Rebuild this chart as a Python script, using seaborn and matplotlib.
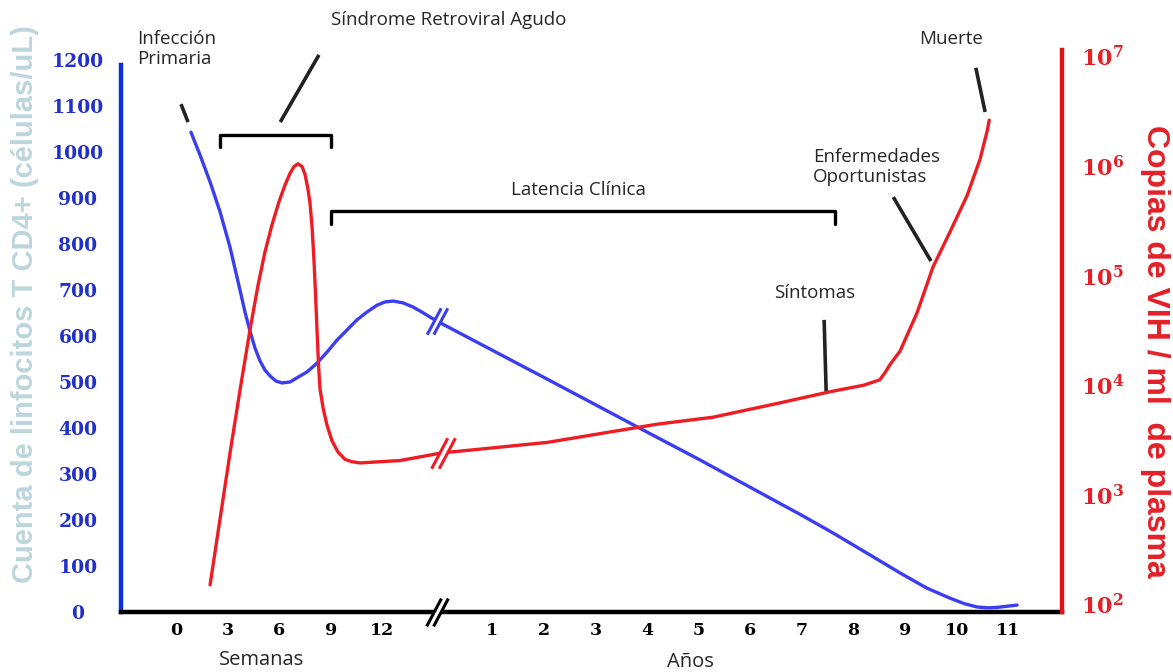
import numpy as np
import pandas as pd
import matplotlib
matplotlib.use("Agg")
import matplotlib.pyplot as plt
from matplotlib.path import Path
import seaborn as sns

# ---------------------------------------------------------------------------
# Data
# ---------------------------------------------------------------------------
# CD4+ T-cell count (cells/uL) during the acute phase (weeks after infection)
cd4_weeks = [0.87, 1.40, 1.98, 2.56, 3.14, 3.72, 4.01, 4.30, 4.59, 4.88,
             5.17, 5.47, 5.81, 6.16, 6.63, 7.03, 7.62, 8.20, 8.78, 9.36,
             9.94, 10.52, 11.10, 11.69, 12.15, 12.62, 13.20, 13.78, 14.30, 14.77]
cd4_acute = [1043, 993, 935, 870, 793, 700, 652, 611, 574, 546,
             526, 513, 502, 498, 500, 509, 522, 541, 565, 591,
             613, 635, 652, 667, 674, 676, 672, 663, 652, 641]
# CD4+ T-cell count during the chronic phase (years after infection)
cd4_years = [0.0, 2.0, 4.0, 5.0, 6.0, 7.0, 7.6, 8.26, 8.9, 9.42,
             9.87, 10.15, 10.39, 10.6, 10.78, 11.17]
cd4_chronic = [628, 510, 391, 332, 271, 210, 172, 128, 85, 52,
               30, 18, 11, 9, 10, 15]

# HIV RNA copies / ml of plasma, acute phase (weeks)
vl_weeks = [1.98, 2.56, 3.14, 3.72, 4.30, 4.77, 5.17, 5.58, 5.99, 6.34,
            6.63, 6.86, 7.09, 7.33, 7.50, 7.67, 7.79, 7.91, 8.02, 8.11,
            8.20, 8.29, 8.37, 8.55, 8.78, 9.07, 9.42, 9.83, 10.23, 10.70,
            11.86, 13.02, 14.77]
vl_acute = [1.5e2, 6.0e2, 2.4e3, 9.0e3, 3.19e4, 8.2e4, 1.64e5, 2.91e5, 4.75e5, 6.73e5,
            8.6e5, 9.9e5, 1.05e6, 9.9e5, 8.4e5, 6.2e5, 4.6e5, 2.8e5, 1.4e5, 6.9e4,
            3.1e4, 1.5e4, 9.3e3, 6.2e3, 4.3e3, 3.1e3, 2.45e3, 2.1e3, 2.0e3, 1.95e3,
            2.0e3, 2.05e3, 2.3e3]
# HIV RNA copies / ml of plasma, chronic phase (years)
vl_years = [0.0, 2.06, 4.19, 5.28, 6.58, 7.54, 8.2, 8.51, 8.61, 8.71,
            8.90, 9.23, 9.54, 9.87, 10.20, 10.45, 10.59, 10.63]
vl_chronic = [2.4e3, 3.0e3, 4.4e3, 5.1e3, 6.9e3, 8.7e3, 1.0e4, 1.12e4, 1.3e4, 1.55e4,
              2.04e4, 4.57e4, 1.2e5, 2.51e5, 5.37e5, 1.15e6, 2.09e6, 2.63e6]

# Axis ticks
week_ticks = [0, 3, 6, 9, 12]
year_ticks = [1, 2, 3, 4, 5, 6, 7, 8, 9, 10, 11]
cd4_ticks = [0, 100, 200, 300, 400, 500, 600, 700, 800, 900, 1000, 1100, 1200]
vl_ticks = [1e2, 1e3, 1e4, 1e5, 1e6, 1e7]
vl_tick_labels = [r"$\mathbf{10^{2}}$", r"$\mathbf{10^{3}}$", r"$\mathbf{10^{4}}$",
                  r"$\mathbf{10^{5}}$", r"$\mathbf{10^{6}}$", r"$\mathbf{10^{7}}$"]

# ---------------------------------------------------------------------------
# Broken time axis: weeks on the left part, years on the right part
# ---------------------------------------------------------------------------
WEEKS_PER_UNIT = 3.0
YEAR_ZERO = 5.13
AXIS_BREAK = 5.06


def week_pos(w):
    return np.asarray(w, dtype=float) / WEEKS_PER_UNIT


def year_pos(y):
    return YEAR_ZERO + np.asarray(y, dtype=float)


cd4_df = pd.DataFrame({
    "pos": np.concatenate([week_pos(cd4_weeks), year_pos(cd4_years)]),
    "value": cd4_acute + cd4_chronic,
})
vl_df = pd.DataFrame({
    "pos": np.concatenate([week_pos(vl_weeks), year_pos(vl_years)]),
    "value": vl_acute + vl_chronic,
})

# ---------------------------------------------------------------------------
# Styling
# ---------------------------------------------------------------------------
sns.set_style("white")
plt.rcParams["font.family"] = ["Open Sans", "DejaVu Sans"]
plt.rcParams["mathtext.fontset"] = "dejavuserif"

BLUE_LINE = "#3b3ef0"
BLUE_AXIS = "#0d2fd8"
BLUE_TEXT = "#2130c8"
RED_LINE = "#f01c24"
RED_AXIS = "#e01414"
RED_TEXT = "#e32027"
LABEL_GREY = "#bcd6dc"
INK = "#262626"

W, H = 1173, 672
fig = plt.figure(figsize=(W / 100, H / 100), dpi=100)
fig.patch.set_facecolor("white")
ax = fig.add_axes([121 / W, 60 / H, 941 / W, 562 / H])
ax2 = ax.twinx()
ax2.set_yscale("log")

sns.lineplot(data=cd4_df, x="pos", y="value", ax=ax, color=BLUE_LINE,
             linewidth=2.4, estimator=None, sort=False, zorder=3)
sns.lineplot(data=vl_df, x="pos", y="value", ax=ax2, color=RED_LINE,
             linewidth=2.4, estimator=None, sort=False, zorder=3)
for ln in ax.get_lines() + ax2.get_lines():
    ln.set_solid_joinstyle("round")

ax.set_xlim(-1.066, 17.17)
ax.set_ylim(0, 1221.7)
ax2.set_ylim(10 ** 1.929, 10 ** 7.06)
ax.set_xlabel("")
ax.set_ylabel("")
ax2.set_ylabel("")

# spines
for s in ("top", "right"):
    ax.spines[s].set_visible(False)
ax.spines["left"].set_color(BLUE_AXIS)
ax.spines["left"].set_linewidth(3.2)
ax.spines["left"].set_bounds(0, 1190)
ax.spines["bottom"].set_color("black")
ax.spines["bottom"].set_linewidth(3.2)
for s in ("top", "left", "bottom"):
    ax2.spines[s].set_visible(False)
ax2.spines["right"].set_color(RED_AXIS)
ax2.spines["right"].set_linewidth(3.2)

# ticks
ax.set_yticks(cd4_ticks)
ax.set_yticklabels([str(t) for t in cd4_ticks])
ax.tick_params(axis="y", length=0, pad=31)
for lab in ax.get_yticklabels():
    lab.set_ha("center")
    lab.set_color(BLUE_TEXT)
    lab.set_fontfamily("DejaVu Serif")
    lab.set_fontweight("bold")
    lab.set_fontsize(13.5)

xt = list(week_pos(week_ticks)) + list(year_pos(year_ticks))
xl = [str(t) for t in week_ticks] + [str(t) for t in year_ticks]
ax.set_xticks(xt)
ax.set_xticklabels(xl)
ax.tick_params(axis="x", length=0, pad=7)
for lab in ax.get_xticklabels():
    lab.set_color("black")
    lab.set_fontfamily("DejaVu Serif")
    lab.set_fontweight("bold")
    lab.set_fontsize(12.5)

ax2.yaxis.set_minor_locator(matplotlib.ticker.NullLocator())
ax2.set_yticks(vl_ticks)
ax2.set_yticklabels(vl_tick_labels)
ax2.tick_params(axis="y", length=0, pad=14, labelsize=16, labelcolor=RED_TEXT)

# axis titles
ax.text(-88 / 941, 308 / 562, "Cuenta de linfocitos T CD4+ (células/uL)",
        transform=ax.transAxes, rotation=90, rotation_mode="anchor",
        ha="center", va="baseline", color=LABEL_GREY, fontsize=21,
        fontweight="bold", family="Liberation Sans")
ax2.text(1 + 85 / 941, 261 / 562, "Copias de VIH / ml  de plasma",
         transform=ax2.transAxes, rotation=-90, rotation_mode="anchor",
         ha="center", va="baseline", color=RED_TEXT, fontsize=23,
         fontweight="bold", family="Liberation Sans")
ax.text(week_pos(5.0), -48 / 562, "Semanas", transform=ax.get_xaxis_transform(),
        ha="center", va="center", fontsize=14.5, color=INK)
ax.text(year_pos(4.83), -50 / 562, "Años", transform=ax.get_xaxis_transform(),
        ha="center", va="center", fontsize=14.5, color=INK)

# ---------------------------------------------------------------------------
# "//" break marks
# ---------------------------------------------------------------------------
slash_marker = Path([(-0.78, -1), (0.28, 1), (-0.28, -1), (0.78, 1)],
                    [Path.MOVETO, Path.LINETO, Path.MOVETO, Path.LINETO])
gap_marker = Path([(-0.78, -1), (-0.28, -1), (0.78, 1), (0.28, 1), (-0.78, -1)],
                  [Path.MOVETO, Path.LINETO, Path.LINETO, Path.LINETO, Path.CLOSEPOLY])


def break_mark(axis, x, y, color, size=20, transform=None):
    tr = transform if transform is not None else axis.transData
    axis.plot([x], [y], marker=gap_marker, markersize=size, color="white",
              markeredgecolor="white", markeredgewidth=1.0, linestyle="none",
              transform=tr, clip_on=False, zorder=6)
    axis.plot([x], [y], marker=slash_marker, markersize=size,
              markerfacecolor="none", markeredgecolor=color, markeredgewidth=2.2,
              linestyle="none", transform=tr, clip_on=False, zorder=7)


break_mark(ax, AXIS_BREAK, 0, "black", transform=ax.get_xaxis_transform())
bx = AXIS_BREAK
break_mark(ax, bx, np.interp(bx, cd4_df["pos"], cd4_df["value"]), BLUE_LINE, size=19)
rx = AXIS_BREAK + 0.11
break_mark(ax2, rx, 10 ** np.interp(rx, vl_df["pos"], np.log10(vl_df["value"])),
           RED_LINE, size=22)

# ---------------------------------------------------------------------------
# Phase annotations (left-axis data coordinates)
# ---------------------------------------------------------------------------
ann_kw = dict(color=INK, fontsize=13.5, clip_on=False)
line_kw = dict(color="#222222", linewidth=2.6, clip_on=False, solid_capstyle="butt")

ax.text(-0.745, 1224, "Infección\nPrimaria", ha="left", va="center",
        linespacing=1.15, **ann_kw)
ax.plot([0.097, 0.233], [1104, 1065], **line_kw)

ax.text(5.29, 1287, "Síndrome Retroviral Agudo", ha="center", va="center", **ann_kw)
ax.plot([2.77, 2.02], [1211, 1065], **line_kw)

bracket_kw = dict(color="black", linewidth=2.4, clip_on=False)
ax.plot([week_pos(2.56), week_pos(2.56), week_pos(9.0), week_pos(9.0)],
        [1011, 1037, 1037, 1011], **bracket_kw)
ax.plot([week_pos(9.0), week_pos(9.0), year_pos(7.64), year_pos(7.64)],
        [843, 872, 872, 843], **bracket_kw)
ax.text(7.79, 917, "Latencia Clínica", ha="center", va="center", **ann_kw)

ax.text(12.34, 968, "Enfermedades\nOportunistas", ha="left", va="center",
        linespacing=1.15, **ann_kw)
ax.plot([13.9, 14.63], [902, 763], **line_kw)

ax.text(12.38, 693, "Síntomas", ha="center", va="center", **ann_kw)
ax.plot([12.56, 12.60], [635, 478], **line_kw)

ax.text(15.02, 1246, "Muerte", ha="center", va="center", **ann_kw)
ax.plot([15.5, 15.68], [1183, 1087], **line_kw)

fig.savefig("out.png", dpi=100, facecolor="white")
